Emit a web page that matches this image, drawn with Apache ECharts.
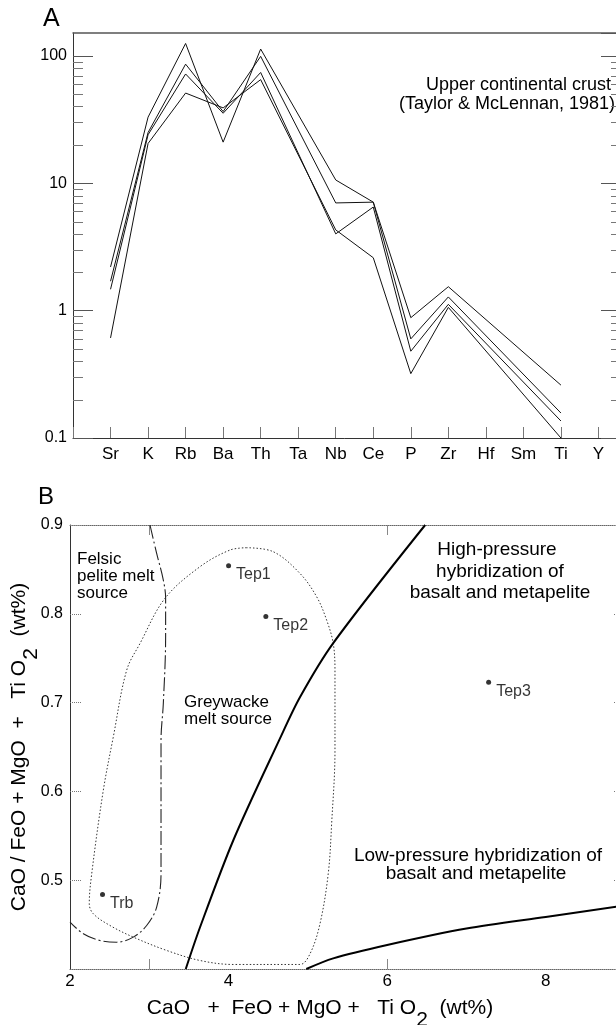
<!DOCTYPE html>
<html>
<head>
<meta charset="utf-8">
<script src="https://cdn.jsdelivr.net/npm/echarts@6/dist/echarts.min.js"></script>
<style>
html,body{margin:0;padding:0;background:#fff;}
#chart{width:616px;height:1025px;}
</style>
</head>
<body>
<div id="chart"></div>
<script>
// ---------- Panel A data ----------
var ELEMENTS = ['Sr','K','Rb','Ba','Th','Ta','Nb','Ce','P','Zr','Hf','Sm','Ti','Y'];
var SAMPLE_1 = [2.2, 33, 125, 21, 113, null, 10.6, 7.1, 0.88, 1.54, null, null, 0.26, null];
var SAMPLE_2 = [1.7, 25, 86, 36.5, 99, null, 7.0, 7.1, 0.60, 1.28, null, null, 0.157, null];
var SAMPLE_3 = [1.47, 24, 72, 35.4, 74, null, 4.0, 6.5, 0.48, 1.12, null, null, 0.136, null];
var SAMPLE_4 = [0.61, 20.5, 51, 39, 65, null, 4.3, 2.6, 0.32, 1.06, null, null, 0.1, null];
var Y_MINOR_TICKS_A = [0.2,0.3,0.4,0.5,0.6,0.7,0.8,0.9,2,3,4,5,6,7,8,9,20,30,40,50,60,70,80,90];

// ---------- Panel B data ----------
var POINT_NAMES = ['Tep1','Tep2','Tep3','Trb'];
var POINT_X = [4.0, 4.47, 7.28, 2.41];
var POINT_Y = [0.854, 0.797, 0.723, 0.484];
var HP_X = [3.46, 3.64, 4.06, 4.64, 4.90, 5.32, 6.48];
var HP_Y = [0.40, 0.447, 0.545, 0.658, 0.706, 0.767, 0.90];
var LP_X = [4.98, 5.32, 6.0, 7.0, 8.0, 9.0];
var LP_Y = [0.40, 0.412, 0.427, 0.4455, 0.4586, 0.4715];
var GREY_X = [4.228,4.018,3.639,3.198,2.883,2.715,2.546,2.42,2.274,2.243,2.294,2.504,2.798,3.219,3.639,4.059,4.90,5.027,5.153,5.257,5.30,5.342,5.342,5.32,5.237,5.111,4.90,4.564,4.228];
var GREY_Y = [0.8744,0.8718,0.853,0.8174,0.7666,0.7365,0.6613,0.6012,0.5073,0.4735,0.4622,0.449,0.4359,0.4209,0.4096,0.4051,0.4051,0.4171,0.451,0.5073,0.5637,0.6463,0.7365,0.7666,0.7929,0.8192,0.8455,0.8699,0.8744];
var FELSIC_X = [3.009,3.093,3.177,3.206,3.206,3.177,3.148,3.148,3.093,2.967,2.798,2.589,2.378,2.168,2.0];
var FELSIC_Y = [0.9,0.868,0.838,0.8174,0.774,0.699,0.6576,0.5073,0.4697,0.449,0.4359,0.4302,0.4321,0.4397,0.4528];
var X_TICKS_B = [3, 6];

var X_TITLE_B = 'CaO   +  FeO + MgO +   Ti O{s|2}  (wt%)';
var Y_TITLE_B = 'CaO / FeO + MgO  +   Ti O{s|2}  (wt%)';

var FONT = 'Liberation Sans, Arial, Helvetica, sans-serif';
var XMAX_A = 14.6;

function zip(xs, ys){ return xs.map(function(x,i){ return [x, ys[i]]; }); }
function elemSeries(vals){
  var d = [];
  vals.forEach(function(v,i){ if (v != null) d.push([i+1, v]); });
  return {
    type:'line', xAxisIndex:0, yAxisIndex:0, data:d, symbol:'none',
    lineStyle:{color:'#111', width:1}, silent:true, animation:false
  };
}
function txt(x, y, s, size, align){
  return {type:'text', x:x, y:y, silent:true,
    style:{text:s, fontSize:size, fontFamily:FONT, fill:'#000', verticalAlign:'middle', align:align || 'left'}};
}

var chart = echarts.init(document.getElementById('chart'), null, {renderer:'canvas'});

var option = {
  animation:false,
  textStyle:{fontFamily:FONT, color:'#000'},
  grid:[
    {left:73, top:33, right:-5, bottom:587, outerBoundsMode:'none', containLabel:false},
    {left:70, top:525, right:-9, bottom:56, outerBoundsMode:'none', containLabel:false}
  ],
  xAxis:[
    { gridIndex:0, type:'value', min:0, max:XMAX_A, interval:1, position:'bottom',
      axisLine:{onZero:false, lineStyle:{color:'#333', width:1}},
      axisTick:{inside:true, length:11, lineStyle:{color:'#777'}},
      axisLabel:{fontSize:17, color:'#000', margin:8, fontFamily:FONT, hideOverlap:false,
        formatter:function(v){ return ELEMENTS[Math.round(v)-1] && Math.abs(v-Math.round(v))<1e-6 ? ELEMENTS[Math.round(v)-1] : ''; }},
      splitLine:{show:false}
    },
    { gridIndex:0, type:'value', min:0, max:XMAX_A, position:'top',
      axisLine:{onZero:false, lineStyle:{color:'#555', width:1.5}},
      axisTick:{show:false}, axisLabel:{show:false}, splitLine:{show:false}
    },
    { gridIndex:1, type:'value', min:2, max:9, interval:2, position:'bottom',
      axisLine:{onZero:false, lineStyle:{color:'#666', width:1, type:[1,1]}},
      axisTick:{show:false},
      axisLabel:{fontSize:17, color:'#000', margin:4, showMaxLabel:false, fontFamily:FONT},
      splitLine:{show:false}
    },
    { gridIndex:1, type:'value', min:2, max:9, position:'top',
      axisLine:{onZero:false, lineStyle:{color:'#666', width:1, type:[1,1]}},
      axisTick:{show:false}, axisLabel:{show:false}, splitLine:{show:false}
    }
  ],
  yAxis:[
    { gridIndex:0, type:'log', logBase:10, min:0.1, max:151, position:'left',
      axisLine:{show:true, onZero:false, lineStyle:{color:'#333', width:1}},
      axisTick:{show:true, inside:true, length:20, lineStyle:{color:'#555'}},
      axisLabel:{fontSize:16, color:'#000', margin:6, showMaxLabel:false, fontFamily:FONT},
      splitLine:{show:false}
    },
    { gridIndex:0, type:'log', logBase:10, min:0.1, max:151, position:'right',
      axisLine:{show:false, onZero:false},
      axisTick:{show:true, inside:true, length:20, lineStyle:{color:'#555'}},
      axisLabel:{show:false}, splitLine:{show:false}
    },
    { gridIndex:1, type:'value', min:0.4, max:0.9, interval:0.1, position:'left',
      axisLine:{show:true, onZero:false, lineStyle:{color:'#333', width:1}},
      axisTick:{show:true, inside:true, length:12, lineStyle:{color:'#777', type:[1,1]}},
      axisLabel:{fontSize:16, color:'#000', margin:7, showMinLabel:false, fontFamily:FONT,
        formatter:function(v){ return v.toFixed(1); }},
      splitLine:{show:false}
    },
    { gridIndex:1, type:'value', min:0.4, max:0.9, interval:0.1, position:'right',
      axisLine:{show:false, onZero:false},
      axisTick:{show:true, inside:true, length:12, lineStyle:{color:'#777', type:[1,1]}},
      axisLabel:{show:false}, splitLine:{show:false}
    }
  ],
  series:[
    elemSeries(SAMPLE_1), elemSeries(SAMPLE_2), elemSeries(SAMPLE_3), elemSeries(SAMPLE_4),
    { type:'custom', xAxisIndex:0, yAxisIndex:0, silent:true,
      data:Y_MINOR_TICKS_A.map(function(v){ return [0, v]; }),
      renderItem:function(params, api){
        var v = api.value(1);
        var pl = api.coord([0, v]);
        var pr = api.coord([XMAX_A, v]);
        return {type:'group', children:[
          {type:'line', shape:{x1:pl[0], y1:Math.round(pl[1])+0.5, x2:pl[0]+10, y2:Math.round(pl[1])+0.5}, style:{stroke:'#777', lineWidth:1}},
          {type:'line', shape:{x1:pr[0], y1:Math.round(pr[1])+0.5, x2:pr[0]-10, y2:Math.round(pr[1])+0.5}, style:{stroke:'#777', lineWidth:1}}
        ]};
      }
    },
    { type:'custom', xAxisIndex:2, yAxisIndex:2, silent:true,
      data:X_TICKS_B.map(function(v){ return [v, 0.4]; }),
      renderItem:function(params, api){
        var v = api.value(0);
        var pb = api.coord([v, 0.4]);
        var pt = api.coord([v, 0.9]);
        return {type:'group', children:[
          {type:'line', shape:{x1:Math.round(pb[0])+0.5, y1:pb[1], x2:Math.round(pb[0])+0.5, y2:pb[1]-10}, style:{stroke:'#888', lineWidth:1}},
          {type:'line', shape:{x1:Math.round(pt[0])+0.5, y1:pt[1], x2:Math.round(pt[0])+0.5, y2:pt[1]+10}, style:{stroke:'#888', lineWidth:1}}
        ]};
      }
    },
    { type:'line', xAxisIndex:2, yAxisIndex:2, data:zip(GREY_X, GREY_Y), symbol:'none', smooth:0.35,
      lineStyle:{color:'#333', width:1, type:[1.5,2]}, silent:true },
    { type:'line', xAxisIndex:2, yAxisIndex:2, data:zip(FELSIC_X, FELSIC_Y), symbol:'none', smooth:0.35,
      lineStyle:{color:'#222', width:1.1, type:[14,3,2,3]}, silent:true },
    { type:'line', xAxisIndex:2, yAxisIndex:2, data:zip(HP_X, HP_Y), symbol:'none', smooth:0.3,
      lineStyle:{color:'#000', width:2}, silent:true },
    { type:'line', xAxisIndex:2, yAxisIndex:2, data:zip(LP_X, LP_Y), symbol:'none', smooth:0.3,
      lineStyle:{color:'#000', width:2}, silent:true },
    { type:'scatter', xAxisIndex:2, yAxisIndex:2, symbol:'circle', symbolSize:5,
      itemStyle:{color:'#000'}, silent:true,
      data:POINT_NAMES.map(function(n,i){ return {name:n, value:[POINT_X[i], POINT_Y[i]]}; }),
      label:{show:true, position:'right', distance:5, offset:[0,9], fontSize:16, color:'#000', fontFamily:FONT,
        formatter:function(p){ return p.name; }}
    }
  ],
  graphic:[
    txt(43, 19, 'A', 25),
    txt(611, 85, 'Upper continental crust', 18, 'right'),
    txt(615, 104, '(Taylor & McLennan, 1981)', 18, 'right'),
    txt(38, 497, 'B', 24),
    txt(77, 559, 'Felsic', 17),
    txt(77, 576, 'pelite melt', 17),
    txt(77, 593, 'source', 17),
    txt(184, 702, 'Greywacke', 17),
    txt(184, 719, 'melt source', 17),
    txt(497, 550, 'High-pressure', 19, 'center'),
    txt(500, 572, 'hybridization of', 19, 'center'),
    txt(500, 593, 'basalt and metapelite', 19, 'center'),
    txt(478, 856, 'Low-pressure hybridization of', 19, 'center'),
    txt(476, 874, 'basalt and metapelite', 19, 'center'),
    {type:'text', x:320, y:1008, silent:true,
      style:{text:X_TITLE_B, fontSize:21, fontFamily:FONT, fill:'#000', align:'center', verticalAlign:'middle',
        rich:{s:{fontSize:21, fontFamily:FONT, fill:'#000', padding:[24,0,0,0]}}}},
    {type:'text', x:19, y:747, rotation:Math.PI/2, silent:true,
      style:{text:Y_TITLE_B, fontSize:21, fontFamily:FONT, fill:'#000', align:'center', verticalAlign:'middle',
        rich:{s:{fontSize:21, fontFamily:FONT, fill:'#000', padding:[24,0,0,0]}}}}
  ]
};
chart.setOption(option);
</script>
</body>
</html>
